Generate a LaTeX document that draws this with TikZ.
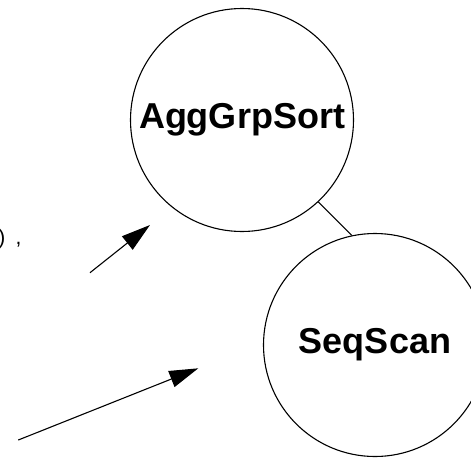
\documentclass[tikz,border=0pt]{standalone}
\usepackage{fontspec}
\setmainfont{Liberation Sans}
\usetikzlibrary{arrows.meta}
\begin{document}
\begin{tikzpicture}[x=1pt,y=-1pt,
  opnode/.style={draw=black, circle, line width=1.1pt, inner sep=0pt, minimum size=223pt,
    font=\fontsize{36}{40}\selectfont\bfseries},
  edge/.style={line width=1.1pt},
  ptr/.style={line width=1.1pt, -{Triangle[length=29pt,width=17pt]}}]
\useasboundingbox (0,0) rectangle (471,458);
\node[opnode] (agg) at (242,120) {AggGrpSort};
\node[opnode] (seq) at (375,345) {SeqScan};
\draw[edge] (agg.-47) -- (seq.102);
\node[anchor=base west, inner sep=0pt, font=\fontsize{21}{24}\selectfont] (frag) at (-1.9,244) {)\hspace{4.5pt} ,};
\coordinate (p1s) at (90,272.7);
\coordinate (p1e) at (150,225);
\coordinate (p2s) at (18.3,440);
\coordinate (p2e) at (198.3,368.3);
\draw[ptr] (p1s) -- (p1e);
\draw[ptr] (p2s) -- (p2e);
\end{tikzpicture}
\end{document}
